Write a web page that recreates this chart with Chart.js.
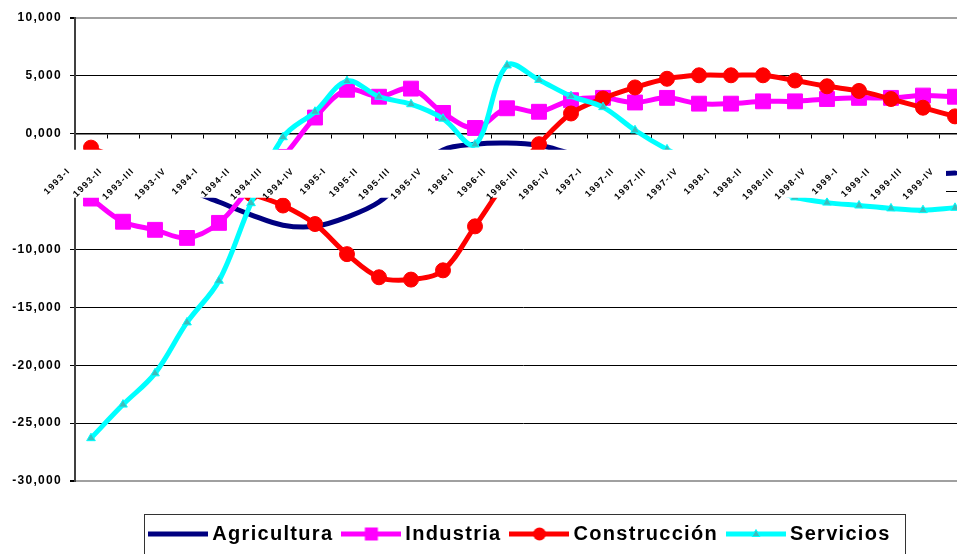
<!DOCTYPE html>
<html>
<head>
<meta charset="utf-8">
<script src="https://cdn.jsdelivr.net/npm/chart.js@4"></script>
<style>
html,body{margin:0;padding:0;background:#fff;overflow:hidden}
#wrap{width:957px;height:554px;overflow:hidden;position:relative;background:#fff}
canvas{display:block}
</style>
</head>
<body>
<div id="wrap"><canvas id="c" width="1000" height="554"></canvas></div>
<script>
// ---- data ----
const categories = [
  "1993-I","1993-II","1993-III","1993-IV",
  "1994-I","1994-II","1994-III","1994-IV",
  "1995-I","1995-II","1995-III","1995-IV",
  "1996-I","1996-II","1996-III","1996-IV",
  "1997-I","1997-II","1997-III","1997-IV",
  "1998-I","1998-II","1998-III","1998-IV",
  "1999-I","1999-II","1999-III","1999-IV"
];
const agricultura = [-3.0,-3.4,-3.9,-4.8,-5.9,-7.0,-7.9,-8.0,-7.2,-5.9,-3.4,-1.4,-0.9,-0.8,-1.0,-1.7,-2.3,-2.7,-3.0,-3.1,-3.2,-3.3,-3.3,-3.3,-3.4,-3.4,-3.5,-3.4];
const industria = [-5.6,-7.6,-8.3,-9.0,-7.7,-4.6,-2.0,1.4,3.8,3.2,3.9,1.8,0.5,2.2,1.9,2.9,3.1,2.7,3.1,2.6,2.6,2.8,2.8,3.0,3.1,3.1,3.3,3.2];
const construccion = [-1.2,-2.3,-3.0,-3.6,-4.3,-5.2,-6.2,-7.8,-10.4,-12.4,-12.6,-11.8,-8.0,-4.0,-0.9,1.75,3.05,4.0,4.75,5.05,5.05,5.05,4.6,4.1,3.7,3.0,2.25,1.5];
const servicios = [-26.3,-23.4,-20.7,-16.3,-12.7,-6.0,-0.3,1.9,4.55,3.2,2.55,1.3,-0.93,5.9,4.65,3.25,2.3,0.3,-1.35,-2.7,-3.7,-4.6,-5.5,-5.95,-6.2,-6.45,-6.6,-6.4];
const seriesNames = ["Agricultura","Industria","Construcción","Servicios"];
const yMin = -30, yMax = 10, yStep = 5;

// ---- styles ----
const FONT = 'Arial, "Liberation Sans", sans-serif';
const colors = ['#000080','#ff00ff','#ff0000','#00ffff'];
const LABEL_OFFSET = -22;
const LEGEND_LEFT = 74;

function legendSample(color, marker) {
  const c = document.createElement('canvas');
  c.width = 60; c.height = 16;
  const g = c.getContext('2d');
  g.strokeStyle = color; g.lineWidth = 5;
  g.beginPath(); g.moveTo(0, 8); g.lineTo(60, 8); g.stroke();
  if (marker === 'rect') { g.fillStyle = color; g.fillRect(23.5, 1.5, 13, 13); }
  if (marker === 'circle') { g.fillStyle = color; g.beginPath(); g.arc(30, 8, 6.5, 0, Math.PI*2); g.fill(); }
  if (marker === 'triangle') {
    g.fillStyle = '#3cbcbc'; g.strokeStyle = color; g.lineWidth = 1;
    g.beginPath(); g.moveTo(30, 3.5); g.lineTo(34, 10.5); g.lineTo(26, 10.5); g.closePath(); g.fill(); g.stroke();
  }
  return c;
}
const samples = [legendSample(colors[0], null), legendSample(colors[1], 'rect'), legendSample(colors[2], 'circle'), legendSample(colors[3], 'triangle')];

const spacingPlugin = {
  id: 'spacing',
  beforeUpdate(chart) { chart.ctx.letterSpacing = '1.3px'; },
  afterLayout(chart) { chart.legend.left = LEGEND_LEFT; },
  beforeDraw(chart) { chart.ctx.letterSpacing = '1.3px'; }
};
const bandPlugin = {
  id: 'band',
  afterDatasetsDraw(chart) {
    const xs = chart.scales.x, ys = chart.scales.y, ctx = chart.ctx;
    const z = ys.getPixelForValue(0);
    const right = xs.getPixelForTick(categories.length - 1) + LABEL_OFFSET + 13;
    ctx.save();
    ctx.fillStyle = '#ffffff';
    ctx.fillRect(0, z + 16, right, 48);
    ctx.restore();
  }
};
const legendBoxPlugin = {
  id: 'legendBox',
  afterDraw(chart) {
    const lg = chart.legend, hb = lg.legendHitBoxes;
    if (!hb || !hb.length) return;
    const last = hb[hb.length - 1];
    const l = Math.round(hb[0].left - 10) + 0.5;
    const r = Math.round(last.left + last.width + 14) + 0.5;
    const ctx = chart.ctx;
    ctx.save();
    ctx.strokeStyle = '#333'; ctx.lineWidth = 1;
    ctx.strokeRect(l, Math.round(hb[0].top - 10) + 0.5, r - l, 60);
    ctx.restore();
  }
};

const mk = (i, data, extra) => Object.assign({
  label: seriesNames[i], data,
  borderColor: colors[i], backgroundColor: colors[i],
  pointBackgroundColor: colors[i], pointBorderColor: colors[i],
  borderWidth: 5, tension: 0.35, borderJoinStyle: 'round', borderCapStyle: 'round',
  pointBorderWidth: 1, pointHoverRadius: 0
}, extra);

new Chart(document.getElementById('c'), {
  type: 'line',
  data: {
    labels: categories,
    datasets: [
      mk(0, agricultura, { pointRadius: 0, order: 3 }),
      mk(1, industria, { pointStyle: 'rect', pointRadius: 10.5, order: 2 }),
      mk(2, construccion, { pointStyle: 'circle', pointRadius: 7.5, order: 1 }),
      mk(3, servicios, { pointStyle: 'triangle', pointRadius: 5, pointBackgroundColor: '#3cbcbc', order: 0 })
    ]
  },
  options: {
    responsive: false, animation: false, devicePixelRatio: 1,
    layout: { padding: { left: 0, right: 29, top: 18, bottom: 0 } },
    plugins: {
      tooltip: { enabled: false },
      legend: {
        position: 'bottom',
        title: { display: true, text: ' ', font: { size: 10, lineHeight: 1 }, padding: { top: 0, bottom: 19 } },
        labels: {
          usePointStyle: true, pointStyleWidth: 48, boxHeight: 20, padding: 14,
          color: '#000', font: { size: 20, weight: 'bold', family: FONT },
          generateLabels(chart) {
            return chart.data.datasets.map((ds, i) => ({
              text: ds.label, pointStyle: samples[i], fillStyle: colors[i], strokeStyle: colors[i],
              lineWidth: 0, hidden: false, datasetIndex: i, fontColor: '#000'
            }));
          }
        }
      }
    },
    scales: {
      x: {
        type: 'category', offset: true, position: { y: 0 },
        grid: { offset: true, drawOnChartArea: false, drawTicks: true, tickLength: 4, tickColor: '#000', color: '#000' },
        border: { display: true, color: '#000', width: 1.5 },
        ticks: { autoSkip: false, minRotation: 45, maxRotation: 45, labelOffset: LABEL_OFFSET, padding: 28, z: 1,
                 color: '#000', font: { size: 9, weight: 'bold', family: FONT } }
      },
      y: {
        min: yMin, max: yMax,
        afterFit(s) { s.width = 75; },
        ticks: { stepSize: yStep, padding: 8, color: '#000', font: { size: 12, weight: 'bold', family: FONT },
                 callback: v => Number(v).toFixed(3).replace('.', ',') },
        grid: {
          color: c => (c.tick && (c.tick.value === yMax || c.tick.value === yMin)) ? '#a0a0a0' : '#000',
          lineWidth: c => (c.tick && (c.tick.value === yMax || c.tick.value === yMin)) ? 2 : 1,
          tickColor: '#000', tickLength: 5, drawTicks: true
        },
        border: { color: '#404040', width: 2 }
      }
    }
  },
  plugins: [spacingPlugin, bandPlugin, legendBoxPlugin]
});
</script>
</body>
</html>
